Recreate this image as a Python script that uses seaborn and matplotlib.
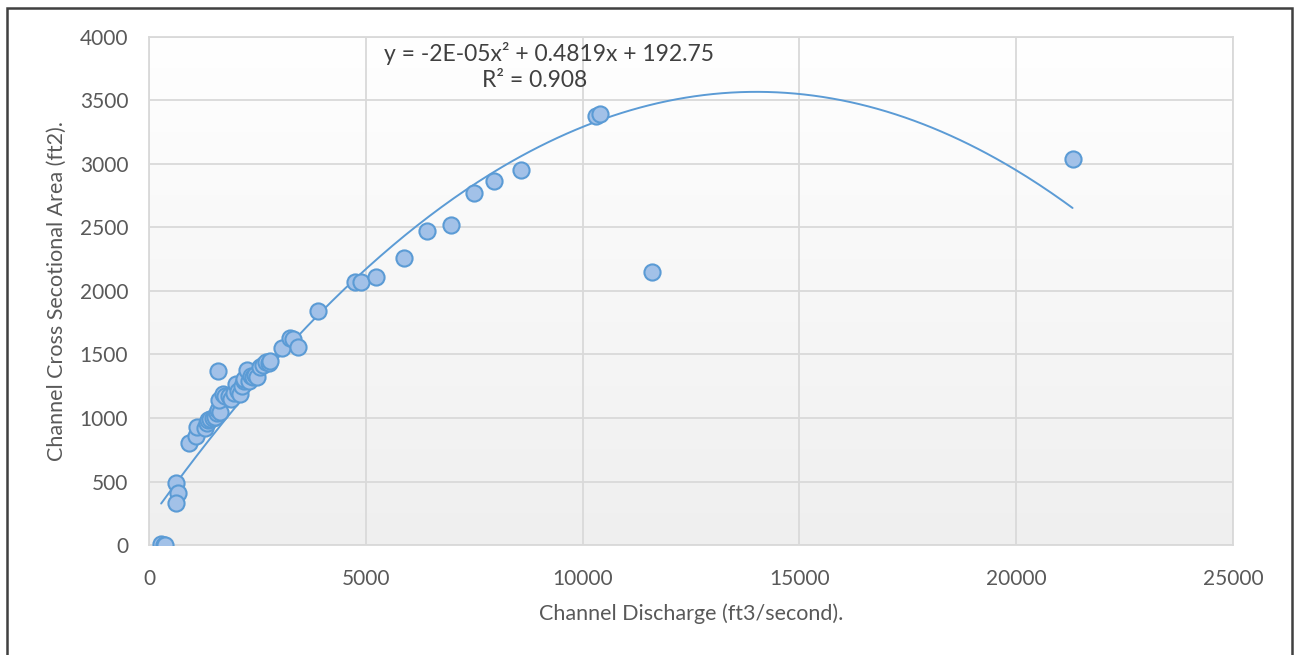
import numpy as np
import matplotlib
matplotlib.use('Agg')
import matplotlib.pyplot as plt
import seaborn as sns
from matplotlib.patches import Rectangle

sns.set_style('white')
plt.rcParams['font.family'] = ['Lato', 'DejaVu Sans']

# channel discharge (ft3/s) and cross sectional area (ft2)
discharge = [280, 340, 370, 620, 670, 620,
             920, 1080, 1110, 1300, 1340, 1360, 1400, 1480, 1520, 1560, 1600, 1640,
             1590, 1610, 1700, 1760, 1850, 1900, 1960, 2000, 2050, 2100, 2150, 2190,
             2200, 2260, 2300, 2350, 2400, 2450, 2500, 2560, 2620, 2700, 2760, 2780,
             3070, 3250, 3320, 3430, 3900, 4750, 4900, 5240, 5880, 6420, 6970, 7500,
             7950, 8570, 10300, 10400, 11600, 21300]
area = [5, 3, 3, 490, 410, 330,
        805, 860, 930, 920, 960, 985, 990, 1000, 1010, 1040, 1060, 1050,
        1370, 1140, 1190, 1170, 1170, 1150, 1200, 1270, 1210, 1190, 1250, 1290,
        1310, 1380, 1290, 1330, 1320, 1340, 1320, 1400, 1420, 1440, 1430, 1450,
        1550, 1630, 1620, 1560, 1840, 2070, 2070, 2110, 2260, 2470, 2520, 2770,
        2870, 2950, 3380, 3390, 2150, 3040]

# polynomial trendline (order 2) as drawn
trend_coef = [-1.72e-05, 0.4819, 192.75]
eq_text = 'y = -2E-05x² + 0.4819x + 192.75'
r2_text = 'R² = 0.908'

x_ticks = [0, 5000, 10000, 15000, 20000, 25000]
y_ticks = [0, 500, 1000, 1500, 2000, 2500, 3000, 3500, 4000]

fig = plt.figure(figsize=(13, 6.55), dpi=100)
ax = fig.add_axes([149/1300, 110/655, 1084/1300, 508/655])

# plot area background, white at the top fading to light grey
grad = np.linspace(1.0, 0.0, 256).reshape(-1, 1)
ax.imshow(grad, extent=[0, 1, 0, 1], transform=ax.transAxes, aspect='auto',
          cmap=matplotlib.colors.LinearSegmentedColormap.from_list('bg', ['#efefef', '#ffffff']),
          zorder=0)

xs = np.linspace(min(discharge), max(discharge), 300)
sns.lineplot(x=xs, y=np.polyval(trend_coef, xs), ax=ax, color='#5b9bd5', linewidth=1.4, zorder=2)
sns.scatterplot(x=discharge, y=area, ax=ax, s=135, color='#a2c1e8', edgecolor='#5b9bd5',
                linewidth=1.5, zorder=3)

ax.set_xlim(0, 25000)
ax.set_ylim(0, 4000)
ax.set_xticks(x_ticks)
ax.set_yticks(y_ticks)
ax.grid(True, color='#d9d9d9', linewidth=1.3, zorder=1)
ax.set_axisbelow(True)
for s in ax.spines.values():
  s.set_color('#d9d9d9')
  s.set_linewidth(1.3)
ax.tick_params(axis='x', length=0, pad=17, labelsize=15, labelcolor='#595959')
ax.tick_params(axis='y', length=0, pad=15, labelsize=15, labelcolor='#595959')

ax.set_xlabel('Channel Discharge (ft3/second).', fontsize=15.5, color='#595959', labelpad=11)
ax.set_ylabel('Channel Cross Secotional Area (ft2).', fontsize=15.5, color='#595959', labelpad=9)

ax.text(9220, 3870, eq_text, ha='center', va='center', fontsize=16.5, color='#404040')
ax.text(8900, 3660, r2_text, ha='center', va='center', fontsize=16.5, color='#404040')

# outer chart border
fig.patches.append(Rectangle((7/1300, -0.05), 1285/1300, 1.05 - 8/655, transform=fig.transFigure,
                             fill=False, edgecolor='#404040', linewidth=1.8))

fig.savefig('out.png', dpi=100)
